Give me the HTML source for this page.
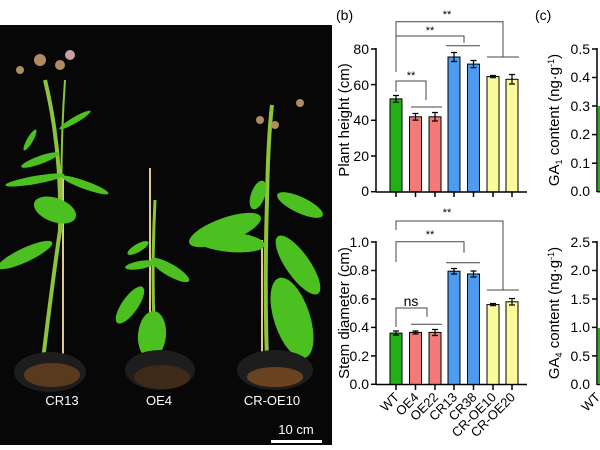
<!DOCTYPE html>
<html><head><meta charset="utf-8"><style>
html,body{margin:0;padding:0;background:#fff;}
svg{display:block;font-family:"Liberation Sans",Arial,sans-serif;}
</style></head><body>
<svg width="600" height="450" viewBox="0 0 600 450" xmlns="http://www.w3.org/2000/svg">
<rect width="600" height="450" fill="#fff"/>
<!-- Photo -->
<rect x="0" y="25" width="332" height="420" fill="#070707"/>
<g fill="#4cc020">
 <path d="M40 385 Q50 300 60 230 Q62 150 45 80" stroke="#8cc43a" stroke-width="4" fill="none"/>
 <line x1="63" y1="175" x2="63" y2="372" stroke="#e0c890" stroke-width="2"/>
 <path d="M62 230 Q60 150 65 80" stroke="#8cc43a" stroke-width="2" fill="none"/>
 <ellipse cx="25" cy="255" rx="30" ry="7" transform="rotate(-25 25 255)"/>
 <ellipse cx="55" cy="210" rx="22" ry="12" transform="rotate(20 55 210)"/>
 <ellipse cx="85" cy="185" rx="25" ry="4" transform="rotate(20 85 185)"/>
 <ellipse cx="35" cy="180" rx="30" ry="4" transform="rotate(-10 35 180)"/>
 <ellipse cx="40" cy="160" rx="20" ry="4" transform="rotate(-20 40 160)"/>
 <ellipse cx="30" cy="140" rx="12" ry="3" transform="rotate(-60 30 140)"/>
 <ellipse cx="75" cy="120" rx="18" ry="3" transform="rotate(-30 75 120)"/>
 <circle cx="40" cy="60" r="6" fill="#b08a60"/><circle cx="60" cy="65" r="5" fill="#b08a60"/><circle cx="70" cy="55" r="5" fill="#c8a0a0"/><circle cx="20" cy="70" r="4" fill="#b08a60"/>
 <line x1="150" y1="168" x2="150" y2="382" stroke="#e0c890" stroke-width="2"/>
 <path d="M158 385 Q150 300 155 200" stroke="#8cc43a" stroke-width="3" fill="none"/>
 <ellipse cx="152" cy="335" rx="14" ry="24" transform="rotate(5 152 335)"/>
 <ellipse cx="130" cy="305" rx="8" ry="22" transform="rotate(35 130 305)"/>
 <ellipse cx="170" cy="270" rx="22" ry="6" transform="rotate(30 170 270)"/>
 <ellipse cx="140" cy="265" rx="15" ry="4" transform="rotate(-10 140 265)"/>
 <ellipse cx="138" cy="248" rx="12" ry="4" transform="rotate(-30 138 248)"/>
 <line x1="262" y1="240" x2="262" y2="378" stroke="#e0c890" stroke-width="2"/>
 <path d="M268 385 Q264 300 267 200 Q268 140 272 105" stroke="#8cc43a" stroke-width="4" fill="none"/>
 <ellipse cx="225" cy="230" rx="38" ry="12" transform="rotate(-20 225 230)"/>
 <ellipse cx="230" cy="242" rx="35" ry="10" transform="rotate(5 230 242)"/>
 <ellipse cx="298" cy="265" rx="12" ry="35" transform="rotate(-35 298 265)"/>
 <ellipse cx="292" cy="318" rx="18" ry="42" transform="rotate(-18 292 318)"/>
 <ellipse cx="300" cy="205" rx="25" ry="8" transform="rotate(25 300 205)"/>
 <ellipse cx="258" cy="195" rx="7" ry="15" transform="rotate(20 258 195)"/>
 <circle cx="260" cy="120" r="4" fill="#b08a60"/><circle cx="275" cy="125" r="4" fill="#b08a60"/><circle cx="300" cy="103" r="4" fill="#b08a60"/>
</g>
<ellipse cx="50" cy="372" rx="36" ry="20" fill="#1d1d1d"/><ellipse cx="52" cy="375" rx="28" ry="12" fill="#5a3a1e"/>
<ellipse cx="160" cy="370" rx="35" ry="20" fill="#1d1d1d"/><ellipse cx="162" cy="377" rx="28" ry="12" fill="#3e2a18"/>
<ellipse cx="275" cy="370" rx="38" ry="20" fill="#1d1d1d"/><ellipse cx="275" cy="377" rx="28" ry="10" fill="#6a4420"/>
<g fill="#fff" font-size="13" text-anchor="middle">
 <text x="62" y="405">CR13</text><text x="159" y="405">OE4</text><text x="272" y="405">CR-OE10</text>
 <text x="296" y="434">10 cm</text>
</g>
<rect x="271" y="440" width="51" height="3" fill="#fff"/>

<text x="336" y="20" font-size="14">(b)</text>
<text x="535" y="20" font-size="14">(c)</text>

<!-- top chart axes -->
<g stroke="#000" stroke-width="1.5" fill="none">
 <line x1="376" y1="48" x2="376" y2="192"/>
 <line x1="376" y1="192" x2="527" y2="192"/>
 <line x1="371" y1="49" x2="376" y2="49"/><line x1="371" y1="84.6" x2="376" y2="84.6"/><line x1="371" y1="120.3" x2="376" y2="120.3"/><line x1="371" y1="156" x2="376" y2="156"/><line x1="371" y1="191.7" x2="376" y2="191.7"/>
 <line x1="396" y1="192" x2="396" y2="197"/><line x1="415.5" y1="192" x2="415.5" y2="197"/><line x1="435" y1="192" x2="435" y2="197"/><line x1="454" y1="192" x2="454" y2="197"/><line x1="473.5" y1="192" x2="473.5" y2="197"/><line x1="493" y1="192" x2="493" y2="197"/><line x1="512" y1="192" x2="512" y2="197"/>
</g>
<g font-size="14" text-anchor="end">
 <text x="369" y="54">80</text><text x="369" y="90">60</text><text x="369" y="125">40</text><text x="369" y="161">20</text><text x="369" y="196">0</text>
</g>
<text transform="translate(349 120) rotate(-90)" font-size="15" text-anchor="middle">Plant height (cm)</text>
<g stroke="#000" stroke-width="1">
 <rect x="390" y="98.9" width="12" height="92.8" fill="#22b014"/>
 <rect x="409.5" y="116.8" width="12" height="74.9" fill="#f47a7a"/>
 <rect x="429" y="116.8" width="12" height="74.9" fill="#f47a7a"/>
 <rect x="448" y="57" width="12" height="134.7" fill="#4d9af0"/>
 <rect x="467.5" y="64.1" width="12" height="127.6" fill="#4d9af0"/>
 <rect x="487" y="76.6" width="12" height="115.1" fill="#fafa9a"/>
 <rect x="506" y="79.3" width="12" height="112.4" fill="#fafa9a"/>
</g>
<g stroke="#000" stroke-width="1.2">
 <path d="M396 95.5V102.3M393 95.5H399M393 102.3H399"/>
 <path d="M415.5 113.5V120.1M412.5 113.5H418.5M412.5 120.1H418.5"/>
 <path d="M435 112.5V121M432 112.5H438M432 121H438"/>
 <path d="M454 52.5V61.5M451 52.5H457M451 61.5H457"/>
 <path d="M473.5 60.5V67.7M470.5 60.5H476.5M470.5 67.7H476.5"/>
 <path d="M493 75.5V77.7M490 75.5H496M490 77.7H496"/>
 <path d="M512 74.5V84M509 74.5H515M509 84H515"/>
</g>
<g stroke="#444" stroke-width="1" fill="none">
 <path d="M396 72V21.7H503V57"/>
 <path d="M396 36H464V42.7"/>
 <path d="M446 45.7H480"/>
 <path d="M487 57H519"/>
 <path d="M396 92V81H426V100"/>
 <path d="M411 107H442"/>
</g>
<g font-size="11" text-anchor="middle">
 <text x="447" y="18">**</text><text x="430" y="34">**</text><text x="411" y="79">**</text>
 <text x="447" y="216">**</text>
</g>
<!-- bottom chart -->
<g stroke="#000" stroke-width="1.5" fill="none">
 <line x1="376" y1="241" x2="376" y2="385"/>
 <line x1="376" y1="384.5" x2="527" y2="384.5"/>
 <line x1="371" y1="242" x2="376" y2="242"/><line x1="371" y1="270.5" x2="376" y2="270.5"/><line x1="371" y1="299" x2="376" y2="299"/><line x1="371" y1="327.4" x2="376" y2="327.4"/><line x1="371" y1="355.9" x2="376" y2="355.9"/><line x1="371" y1="384.3" x2="376" y2="384.3"/>
 <line x1="396" y1="385" x2="396" y2="390"/><line x1="415.5" y1="385" x2="415.5" y2="390"/><line x1="435" y1="385" x2="435" y2="390"/><line x1="454" y1="385" x2="454" y2="390"/><line x1="473.5" y1="385" x2="473.5" y2="390"/><line x1="493" y1="385" x2="493" y2="390"/><line x1="512" y1="385" x2="512" y2="390"/>
</g>
<g font-size="14" text-anchor="end">
 <text x="369" y="247">1.0</text><text x="369" y="275">0.8</text><text x="369" y="304">0.6</text><text x="369" y="332">0.4</text><text x="369" y="361">0.2</text><text x="369" y="389">0.0</text>
</g>
<text transform="translate(349 313) rotate(-90)" font-size="15" text-anchor="middle">Stem diameter (cm)</text>
<g stroke="#000" stroke-width="1">
 <rect x="390" y="333.1" width="12" height="51.2" fill="#22b014"/>
 <rect x="409.5" y="332.4" width="12" height="51.9" fill="#f47a7a"/>
 <rect x="429" y="332.4" width="12" height="51.9" fill="#f47a7a"/>
 <rect x="448" y="271.2" width="12" height="113.1" fill="#4d9af0"/>
 <rect x="467.5" y="274" width="12" height="110.3" fill="#4d9af0"/>
 <rect x="487" y="304.6" width="12" height="79.7" fill="#fafa9a"/>
 <rect x="506" y="301.8" width="12" height="82.5" fill="#fafa9a"/>
</g>
<g stroke="#000" stroke-width="1.2">
 <path d="M396 331V335M393 331H399M393 335H399"/>
 <path d="M415.5 331V334M412.5 331H418.5M412.5 334H418.5"/>
 <path d="M435 329.5V335.5M432 329.5H438M432 335.5H438"/>
 <path d="M454 268.5V274M451 268.5H457M451 274H457"/>
 <path d="M473.5 271V277M470.5 271H476.5M470.5 277H476.5"/>
 <path d="M493 303.5V305.7M490 303.5H496M490 305.7H496"/>
 <path d="M512 298.5V305M509 298.5H515M509 305H515"/>
</g>
<g stroke="#444" stroke-width="1" fill="none">
 <path d="M396 230V221H503V290"/>
 <path d="M396 262V241.7H464V252.7"/>
 <path d="M446 262.7H480"/>
 <path d="M487 290H519"/>
 <path d="M396 327V308H427V316.7"/>
 <path d="M411 324.3H442"/>
</g>
<text x="430" y="238" font-size="11" text-anchor="middle">**</text>
<text x="411" y="306" font-size="14" text-anchor="middle">ns</text>
<g font-size="13" text-anchor="end">
 <text transform="translate(400 398) rotate(-45)">WT</text>
 <text transform="translate(419.5 398) rotate(-45)">OE4</text>
 <text transform="translate(439 398) rotate(-45)">OE22</text>
 <text transform="translate(458 398) rotate(-45)">CR13</text>
 <text transform="translate(477.5 398) rotate(-45)">CR38</text>
 <text transform="translate(497 398) rotate(-45)">CR-OE10</text>
 <text transform="translate(516 398) rotate(-45)">CR-OE20</text>
</g>
<!-- (c) partial -->
<g stroke="#000" stroke-width="1.5">
 <line x1="597" y1="48" x2="597" y2="192"/><line x1="597" y1="191.7" x2="600" y2="191.7"/>
 <line x1="592" y1="49" x2="597" y2="49"/><line x1="592" y1="77.5" x2="597" y2="77.5"/><line x1="592" y1="106" x2="597" y2="106"/><line x1="592" y1="134.6" x2="597" y2="134.6"/><line x1="592" y1="163.2" x2="597" y2="163.2"/>
 <line x1="597" y1="241" x2="597" y2="385"/><line x1="597" y1="384.5" x2="600" y2="384.5"/>
 <line x1="592" y1="242" x2="597" y2="242"/><line x1="592" y1="270.5" x2="597" y2="270.5"/><line x1="592" y1="299" x2="597" y2="299"/><line x1="592" y1="327.4" x2="597" y2="327.4"/><line x1="592" y1="355.9" x2="597" y2="355.9"/>
</g>
<rect x="598" y="106" width="2" height="85" fill="#22b014"/>
<rect x="598" y="328" width="2" height="56" fill="#22b014"/>
<g font-size="14" text-anchor="end">
 <text x="590" y="54">0.5</text><text x="590" y="82">0.4</text><text x="590" y="111">0.3</text><text x="590" y="139">0.2</text><text x="590" y="168">0.1</text><text x="590" y="196">0.0</text>
 <text x="590" y="247">2.5</text><text x="590" y="275">2.0</text><text x="590" y="304">1.5</text><text x="590" y="332">1.0</text><text x="590" y="361">0.5</text><text x="590" y="389">0.0</text>
</g>
<text transform="translate(559 120) rotate(-90)" font-size="15" text-anchor="middle">GA<tspan font-size="9" dy="3">1</tspan><tspan dy="-3"> content (ng·g</tspan><tspan font-size="9" dy="-5">-1</tspan><tspan dy="5">)</tspan></text>
<text transform="translate(559 313) rotate(-90)" font-size="15" text-anchor="middle">GA<tspan font-size="9" dy="3">4</tspan><tspan dy="-3"> content (ng·g</tspan><tspan font-size="9" dy="-5">-1</tspan><tspan dy="5">)</tspan></text>
<text transform="translate(601 398) rotate(-45)" font-size="13" text-anchor="end">WT</text>
</svg>
</body></html>
